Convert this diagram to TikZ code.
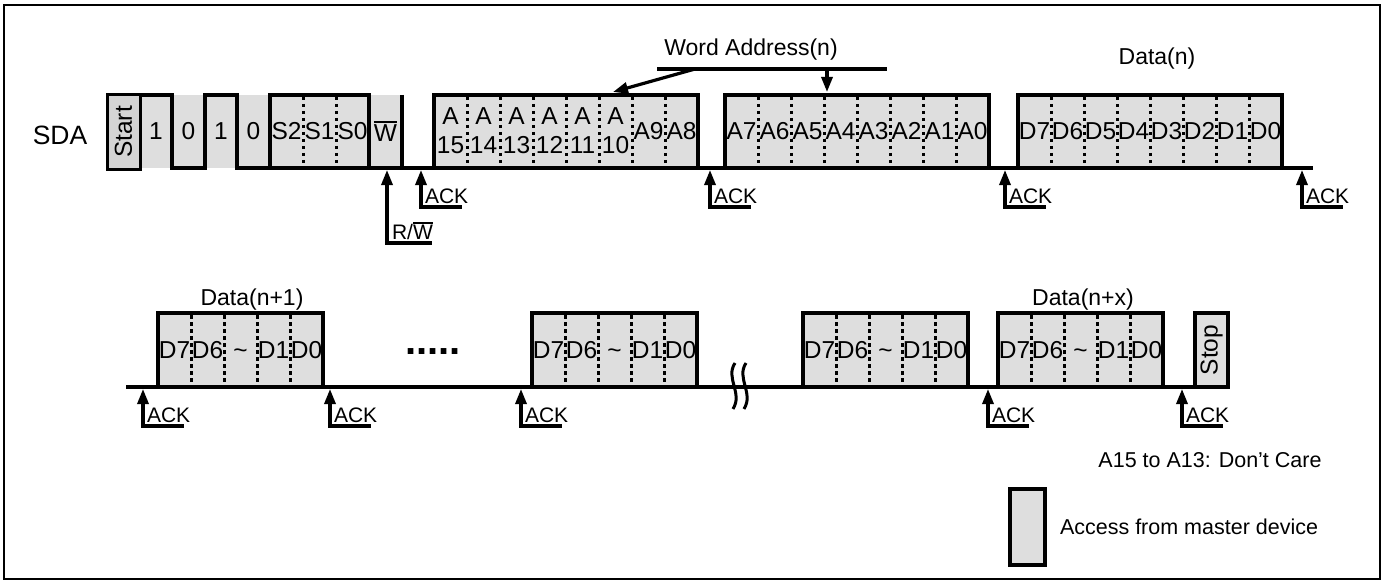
\documentclass[tikz,border=0pt]{standalone}
\usepackage{fontspec}
\setmainfont{Liberation Sans}
\usetikzlibrary{arrows.meta}
\definecolor{bitgrey}{RGB}{222,222,222}
\definecolor{startgrey}{RGB}{212,212,212}
\newcommand\ovl[1]{\leavevmode\vbox{\hrule height 2pt\kern 1.6pt\hbox{#1}}}
\newcommand\ackmark[2]{%
  \draw[ackline] (#1,#2+2) -- (#1,#2+39) -- (#1+41,#2+39);
  \node[acklbl] at (#1+4,#2+36) {ACK};}
\begin{document}
\begin{tikzpicture}[x=1pt,y=-1pt,
  every node/.style={font=\fontsize{23}{28}\selectfont, inner sep=0pt, outer sep=0pt},
  cell/.style={font=\fontsize{24.5}{29}\selectfont},
  sig/.style={line width=3.8pt},
  boxline/.style={line width=3.6pt, fill=bitgrey},
  div/.style={line width=3pt, dash pattern=on 3.5pt off 3.5pt},
  ackline/.style={line width=3.2pt, {Triangle[length=15pt,width=11pt]}-},
  acklbl/.style={anchor=south west, font=\fontsize{21}{24}\selectfont},
  arr/.style={line width=3.2pt, -{Triangle[length=15pt,width=11pt]}},
  lgd/.style={font=\fontsize{21.5}{26}\selectfont}]
\useasboundingbox (0,0) rectangle (1387,583);
\draw[line width=2.4pt] (4,5) rectangle (1380,579);

% ---------------- Row 1 ----------------
\node[font=\fontsize{26.5}{30}\selectfont] (sda) at (60,135) {SDA};
\fill[bitgrey] (140,95) rectangle (402,168);
\draw[line width=3pt, fill=startgrey] (107,95) rectangle (140,170);
\node[cell, rotate=90] (start) at (123.5,132) {Start};
\draw[sig] (140,95) -| (172,168) -| (205,95) -| (237,168) -| (270,95) -| (369,168);
\draw[sig] (402,95) -- (402,168);
\draw[sig] (172,168) -- (205,168);
\draw[sig] (237,168) -- (1313,168);
\foreach \x in {303,336} \draw[div] (\x,97) -- (\x,166);
\node[cell] at (156,131) {1};
\node[cell] at (188.5,131) {0};
\node[cell] at (221,131) {1};
\node[cell] at (253.5,131) {0};
\node[cell] at (286.5,131) {S2};
\node[cell] at (319.5,131) {S1};
\node[cell] at (352.5,131) {S0};
\node[cell] at (385.5,131) {\ovl{W}};

% word address high byte
\draw[boxline] (434,95) rectangle (698,168);
\foreach \i in {1,...,7} \draw[div] (434+33*\i,97) -- (434+33*\i,166);
\foreach \t [count=\i from 0] in {15,14,13,12,11,10}
  \node[cell, align=center] at (434+33*\i+16.5,131) {A\\\t};
\node[cell] at (434+33*6+16.5,131) {A9};
\node[cell] at (434+33*7+16.5,131) {A8};

% word address low byte
\draw[boxline] (725,95) rectangle (989,168);
\foreach \i in {1,...,7} \draw[div] (725+33*\i,97) -- (725+33*\i,166);
\foreach \t [count=\i from 0] in {A7,A6,A5,A4,A3,A2,A1,A0}
  \node[cell] at (725+33*\i+16.5,131) {\t};

% data(n)
\draw[boxline] (1018,95) rectangle (1282,168);
\foreach \i in {1,...,7} \draw[div] (1018+33*\i,97) -- (1018+33*\i,166);
\foreach \t [count=\i from 0] in {D7,D6,D5,D4,D3,D2,D1,D0}
  \node[cell] at (1018+33*\i+16.5,131) {\t};

\node (wa) at (751,50) {Word Address(n)};
\draw[line width=4.5pt] (657,69) -- (887,69);
\draw[arr] (695,69) -- (613,92);
\draw[arr] (827,69) -- (827,92);
\node (dn) at (1157,59) {Data(n)};

% R/W and ACKs
\draw[ackline] (387,170) -- (387,243) -- (432,243);
\node[acklbl] at (392,240) {R/\ovl{W}};
\ackmark{421}{168}
\ackmark{710}{168}
\ackmark{1005}{168}
\ackmark{1302}{168}

% ---------------- Row 2 ----------------
\draw[sig] (126,387) -- (1195,387);
\foreach \x in {158,532,803,998}{
  \draw[boxline] (\x,313) rectangle (\x+165,387);
  \foreach \i in {1,...,4} \draw[div] (\x+33*\i,315) -- (\x+33*\i,385);
  \foreach \t [count=\i from 0] in {D7,D6,\textasciitilde,D1,D0}
    \node[cell, anchor=base] at (\x+33*\i+16.5,358.5) {\t};
}
\draw[boxline] (1195,313) rectangle (1228,387);
\node[cell, rotate=90] (stop) at (1211.5,350) {Stop};
\node[font=\fontsize{40}{40}\bfseries] (dots) at (433,352) {.....};
\foreach \x in {730,741}
  \draw[line width=3pt] (\x+5,363) .. controls (\x-5,378) and (\x+13,393) .. (\x+3,409);
\node (dn1) at (252,300) {Data(n+1)};
\node (dnx) at (1083,300) {Data(n+x)};
\ackmark{143}{387}
\ackmark{330}{387}
\ackmark{521}{387}
\ackmark{988}{387}
\ackmark{1182}{387}

% ---------------- Legend ----------------
\node[lgd] (dc) at (1210,460) {A15 to A13: Don’t Care};
\draw[boxline] (1010,489) rectangle (1045,565);
\node[lgd, anchor=west] (acc) at (1060,527) {Access from master device};
\end{tikzpicture}
\end{document}
